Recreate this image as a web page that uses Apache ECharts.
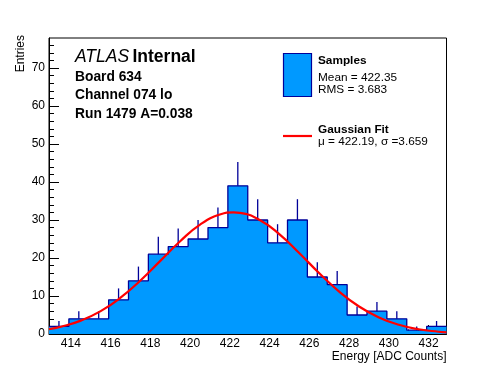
<!DOCTYPE html>
<html>
<head>
<meta charset="utf-8">
<script src="https://cdn.jsdelivr.net/npm/echarts@6/dist/echarts.min.js"></script>
<style>html,body{margin:0;padding:0;background:#fff}#c{width:496px;height:372px}</style>
</head>
<body>
<div id="c"></div>
<script>
// ---- data ----
var binLow = 412.9;            // first bin lower edge
var binWidth = 1;
var counts = [2, 4, 4, 9, 14, 21, 23, 25, 28, 39, 30, 24, 30, 15, 13, 5, 6, 4, 1, 2];
var fitX = [412.9, 413.5, 414.5, 415.5, 416.5, 417.5, 418.5, 419.5, 420.5, 421.5, 422.19, 422.5, 423.5, 424.5, 425.5, 426.5, 427.5, 428.5, 429.5, 430.5, 431.5, 432.5, 432.9];
var fitY = [1.28, 1.91, 3.52, 6.02, 9.55, 14.08, 19.25, 24.42, 28.77, 31.44, 32.0, 31.88, 30.02, 26.22, 21.25, 15.99, 11.17, 7.24, 4.35, 2.43, 1.26, 0.60, 0.44];
var xMajorTicks = [414, 416, 418, 420, 422, 424, 426, 428, 430, 432];
var xMinorTicks = [413, 413.5, 414.5, 415, 415.5, 416.5, 417, 417.5, 418.5, 419, 419.5, 420.5, 421, 421.5, 422.5, 423, 423.5, 424.5, 425, 425.5, 426.5, 427, 427.5, 428.5, 429, 429.5, 430.5, 431, 431.5, 432.5];
var yMajorTicks = [0, 10, 20, 30, 40, 50, 60, 70];
var yMinorTicks = [2, 4, 6, 8, 12, 14, 16, 18, 22, 24, 26, 28, 32, 34, 36, 38, 42, 44, 46, 48, 52, 54, 56, 58, 62, 64, 66, 68, 72, 74, 76];
var xMin = 412.9, xMax = 432.9;
var yMax = 77.9;
var infoLines = ['Board 634', 'Channel 074 lo', 'Run 1479 A=0.038'];
var legendSamples = ['Samples', 'Mean = 422.35', 'RMS = 3.683'];
var legendFit = ['Gaussian Fit', '\u03bc = 422.19, \u03c3 =3.659'];

// derived
var edges = counts.map(function (c, i) { return binLow + i * binWidth; });
var stepData = counts.map(function (c, i) { return [edges[i], c]; });
stepData.push([binLow + counts.length * binWidth, counts[counts.length - 1]]);
var centers = counts.map(function (c, i) { return [binLow + (i + 0.5) * binWidth, c]; });
var fitData = fitX.map(function (x, i) { return [x, fitY[i]]; });

var FONT = '"Liberation Sans", Arial, Helvetica, sans-serif';
var DARK = '#000099', FILL = '#0099ff';

var chart = echarts.init(document.getElementById('c'), null, {renderer: 'canvas'});
var baseX = {type: 'value', min: xMin, max: xMax, position: 'bottom', splitLine: {show: false}};
var baseY = {type: 'value', min: 0, max: yMax, position: 'left', splitLine: {show: false}};
chart.setOption({
  animation: false,
  backgroundColor: '#fff',
  grid: {left: 49, top: 38, right: 49.5, bottom: 38, show: true, borderColor: '#000', borderWidth: 1, backgroundColor: 'transparent'},
  xAxis: [
    Object.assign({}, baseX, {
      axisLine: {show: true, onZero: false, lineStyle: {color: '#000'}},
      axisTick: {show: true, inside: true, length: 9, customValues: xMajorTicks, lineStyle: {color: '#000'}},
      axisLabel: {show: true, customValues: xMajorTicks, color: '#000', fontSize: 12, fontFamily: FONT, margin: 4},
      name: 'Energy [ADC Counts]', nameLocation: 'end', nameGap: 0,
      nameTextStyle: {color: '#000', fontSize: 12, fontFamily: FONT, align: 'right', verticalAlign: 'top', padding: [17, 0, 0, 0]}
    }),
    Object.assign({}, baseX, {
      axisLine: {show: false, onZero: false},
      axisTick: {show: true, inside: true, length: 4.5, customValues: xMinorTicks, lineStyle: {color: '#000'}},
      axisLabel: {show: false}
    })
  ],
  yAxis: [
    Object.assign({}, baseY, {
      axisLine: {show: true, onZero: false, lineStyle: {color: '#000'}},
      axisTick: {show: true, inside: true, length: 10, customValues: yMajorTicks, lineStyle: {color: '#000'}},
      axisLabel: {show: true, customValues: yMajorTicks, color: '#000', fontSize: 12, fontFamily: FONT, margin: 4}
    }),
    Object.assign({}, baseY, {
      axisLine: {show: false, onZero: false},
      axisTick: {show: true, inside: true, length: 5, customValues: yMinorTicks, lineStyle: {color: '#000'}},
      axisLabel: {show: false}
    })
  ],
  series: [
    {
      type: 'line', xAxisIndex: 0, yAxisIndex: 0, step: 'end', data: stepData, symbol: 'none',
      lineStyle: {color: DARK, width: 1.3},
      areaStyle: {color: FILL, opacity: 1, origin: 'start'},
      z: 2
    },
    {
      type: 'custom', xAxisIndex: 0, yAxisIndex: 0, data: centers, z: 3,
      renderItem: function (params, api) {
        var x = api.value(0), c = api.value(1);
        var p0 = api.coord([x, c]);
        var p1 = api.coord([x, c + Math.sqrt(c)]);
        return {type: 'line', shape: {x1: p0[0], y1: p0[1], x2: p1[0], y2: p1[1]}, style: {stroke: DARK, lineWidth: 1.3}};
      }
    },
    {
      type: 'line', xAxisIndex: 0, yAxisIndex: 0, data: fitData, smooth: true, symbol: 'none',
      lineStyle: {color: '#ff0000', width: 2.2}, z: 4
    }
  ],
  graphic: [
    {type: 'text', x: 21, y: 35, rotation: Math.PI / 2, style: {text: 'Entries', font: '12px ' + FONT, fill: '#000', align: 'right', verticalAlign: 'middle'}},
    {type: 'text', left: 75, top: 48, style: {
      text: '{i|ATLAS} {b|Internal}',
      rich: {i: {fontStyle: 'italic', fontSize: 17.5, fontFamily: FONT, fill: '#000'}, b: {fontWeight: 'bold', fontSize: 17.5, fontFamily: FONT, fill: '#000'}}
    }},
    {type: 'text', x: 75, y: 77, style: {text: infoLines[0], font: 'bold 13.8px ' + FONT, fill: '#000', verticalAlign: 'middle'}},
    {type: 'text', x: 75, y: 95.5, style: {text: infoLines[1], font: 'bold 13.8px ' + FONT, fill: '#000', verticalAlign: 'middle'}},
    {type: 'text', x: 75, y: 114, style: {text: infoLines[2], font: 'bold 13.8px ' + FONT, fill: '#000', verticalAlign: 'middle'}},
    {type: 'rect', shape: {x: 283.5, y: 53.5, width: 28, height: 43}, style: {fill: FILL, stroke: DARK, lineWidth: 1.2}},
    {type: 'text', x: 318, y: 61, style: {text: legendSamples[0], font: 'bold 11.8px ' + FONT, fill: '#000', verticalAlign: 'middle'}},
    {type: 'text', x: 318, y: 77.5, style: {text: legendSamples[1], font: '11.8px ' + FONT, fill: '#000', verticalAlign: 'middle'}},
    {type: 'text', x: 318, y: 90, style: {text: legendSamples[2], font: '11.8px ' + FONT, fill: '#000', verticalAlign: 'middle'}},
    {type: 'line', shape: {x1: 283, y1: 136, x2: 312, y2: 136}, style: {stroke: '#ff0000', lineWidth: 2.2}},
    {type: 'text', x: 318, y: 129.5, style: {text: legendFit[0], font: 'bold 11.8px ' + FONT, fill: '#000', verticalAlign: 'middle'}},
    {type: 'text', x: 318, y: 141.5, style: {text: legendFit[1], font: '11.8px ' + FONT, fill: '#000', verticalAlign: 'middle'}}
  ]
});
</script>
</body>
</html>
